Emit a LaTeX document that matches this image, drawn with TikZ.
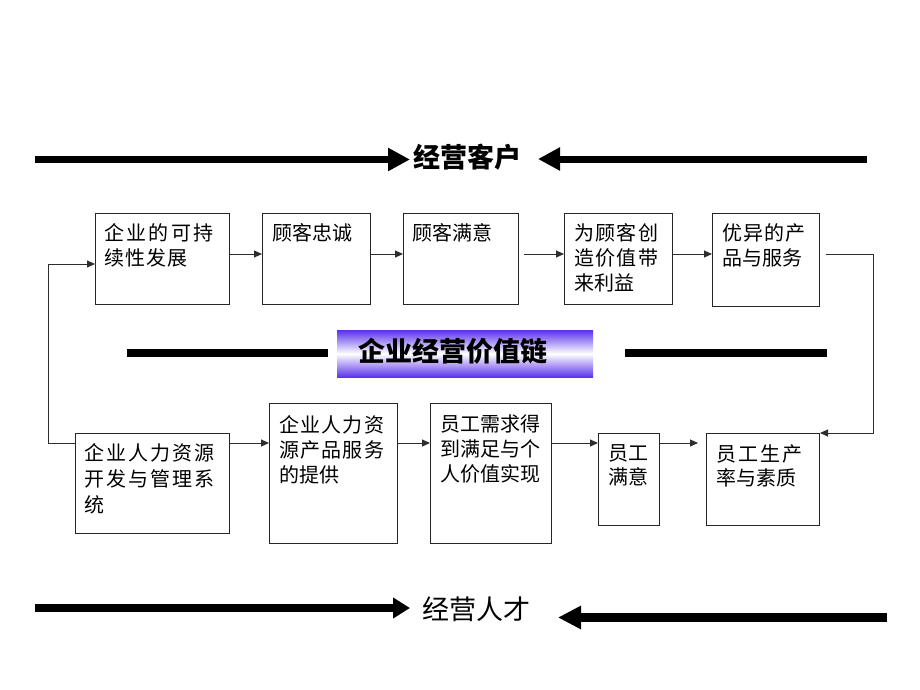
\documentclass[tikz,border=0pt]{standalone}
\usepackage{fontspec}
\setmainfont{Noto Sans CJK SC}
\usetikzlibrary{arrows.meta}
\definecolor{vio}{RGB}{90,50,235}
\definecolor{linegray}{RGB}{45,45,45}
\begin{document}
\begin{tikzpicture}[x=1pt,y=-1pt,
  box/.style={draw=black!85,line width=1pt,inner sep=0pt,anchor=north west},
  txt/.style={anchor=north west,inner sep=0pt,align=left,font=\fontsize{20}{25}\selectfont},
  txtb/.style={anchor=north west,inner sep=0pt,align=left,font=\fontsize{20}{26}\selectfont},
  txtc/.style={anchor=north west,inner sep=0pt,align=left,font=\fontsize{20}{24}\selectfont},
  conn/.style={draw=linegray,line width=1pt,-{Triangle[length=8pt,width=7pt]}},
  bigarrow/.style={line width=7pt,-{Triangle[length=22pt,width=22pt]}},
  bar/.style={line width=8pt},
  title/.style={inner sep=0pt,font=\fontsize{27}{27}\selectfont\bfseries},
]
\useasboundingbox[fill=white] (0,0) rectangle (920,690);

% ---- top title with arrows
\node[title] (tc) at (467.5,157) {经营客户};
\coordinate (tl) at (35,159.5);
\coordinate (tlend) at (410,159.5);
\coordinate (tr) at (867,159);
\coordinate (trend) at (538,159);
\draw[bigarrow] (tl) -- (tlend);
\draw[bigarrow] (tr) -- (trend);

% ---- top row boxes
\node[box,minimum width=134pt,minimum height=91pt] (b1) at (95,213) {};
\node[box,minimum width=108pt,minimum height=91pt] (b2) at (262,213) {};
\node[box,minimum width=115pt,minimum height=91pt] (b3) at (403,213) {};
\node[box,minimum width=108pt,minimum height=91pt] (b4) at (564,213) {};
\node[box,minimum width=107pt,minimum height=93pt] (b5) at (712,213) {};

\node[txt] (b1t) at (104,223) {{\addfontfeature{LetterSpace=12}企业的可持}\\{\addfontfeature{LetterSpace=5}续性发展}};
\node[txt] (b2t) at (272,223) {顾客忠诚};
\node[txt] (b3t) at (412,223) {顾客满意};
\node[txt] (b4t) at (574,223) {{\addfontfeature{LetterSpace=7}为顾客创}\\{\addfontfeature{LetterSpace=7}造价值带}\\来利益};
\node[txt] (b5t) at (722,223) {{\addfontfeature{LetterSpace=5}优异的产}\\品与服务};

% ---- middle title
\node[inner sep=0pt,anchor=north west,minimum width=256pt,minimum height=47pt,
      top color=vio,bottom color=vio,middle color=white] (vc) at (337,330) {};
\node[title] (vct) at (452.5,351.5) {企业经营价值链};
\coordinate (ml1) at (127,353);
\coordinate (ml2) at (328,353);
\coordinate (mr1) at (625,353);
\coordinate (mr2) at (827,353);
\draw[bar] (ml1) -- (ml2);
\draw[bar] (mr1) -- (mr2);

% ---- bottom row boxes
\node[box,minimum width=154pt,minimum height=100pt] (h1) at (75,433) {};
\node[box,minimum width=128pt,minimum height=140pt] (h2) at (269,403) {};
\node[box,minimum width=121pt,minimum height=140pt] (h3) at (430,403) {};
\node[box,minimum width=61pt,minimum height=92pt] (h4) at (598,433) {};
\node[box,minimum width=113pt,minimum height=92pt] (h5) at (706,433) {};

\node[txtb] (h1t) at (84,443) {{\addfontfeature{LetterSpace=10}企业人力资源}\\{\addfontfeature{LetterSpace=10}开发与管理系}\\统};
\node[txt] (h2t) at (279,415) {{\addfontfeature{LetterSpace=6}企业人力资}\\{\addfontfeature{LetterSpace=6}源产品服务}\\的提供};
\node[txt] (h3t) at (440,415) {员工需求得\\到满足与个\\人价值实现};
\node[txtc] (h4t) at (608,444) {员工\\满意};
\node[txtc] (h5t) at (716,444) {{\addfontfeature{LetterSpace=10}员工生产}\\率与素质};

% ---- connectors
\coordinate (r1) at (0,254);
\coordinate (r2) at (0,443);
\draw[conn] (b1.east|-r1) -- (b2.west|-r1);
\draw[conn] (b2.east|-r1) -- (b3.west|-r1);
\coordinate (s34) at (524,254);
\draw[conn] (s34) -- (b4.west|-r1);
\draw[conn] (b4.east|-r1) -- (b5.west|-r1);
\coordinate (s5) at (826,254);
\coordinate (k5) at (873,433);
\draw[conn] (s5) -| (k5) -- (h5.north east);

\draw[conn] (h1.east|-r2) -- (h2.west|-r2);
\draw[conn] (h2.east|-r2) -- (h3.west|-r2);
\draw[conn] (h3.east|-r2) -- (h4.west|-r2);
\coordinate (e45) at (698,443);
\draw[conn] (h4.east|-r2) -- (e45);
\coordinate (kl) at (48,264);
\draw[conn] (h1.west|-r2) -| (kl) -- (b1.west|-kl);

% ---- bottom title with arrows
\node[inner sep=0pt,font=\fontsize{27}{27}\selectfont] (tp) at (476,609.5) {经营人才};
\coordinate (bl) at (35,608);
\coordinate (blend) at (410,608);
\coordinate (br) at (887,617.5);
\coordinate (brend) at (558,617.5);
\draw[line width=7.5pt,-{Triangle[length=17pt,width=20pt]}] (bl) -- (blend);
\draw[line width=9pt,-{Triangle[length=23pt,width=22pt]}] (br) -- (brend);
\end{tikzpicture}
\end{document}
